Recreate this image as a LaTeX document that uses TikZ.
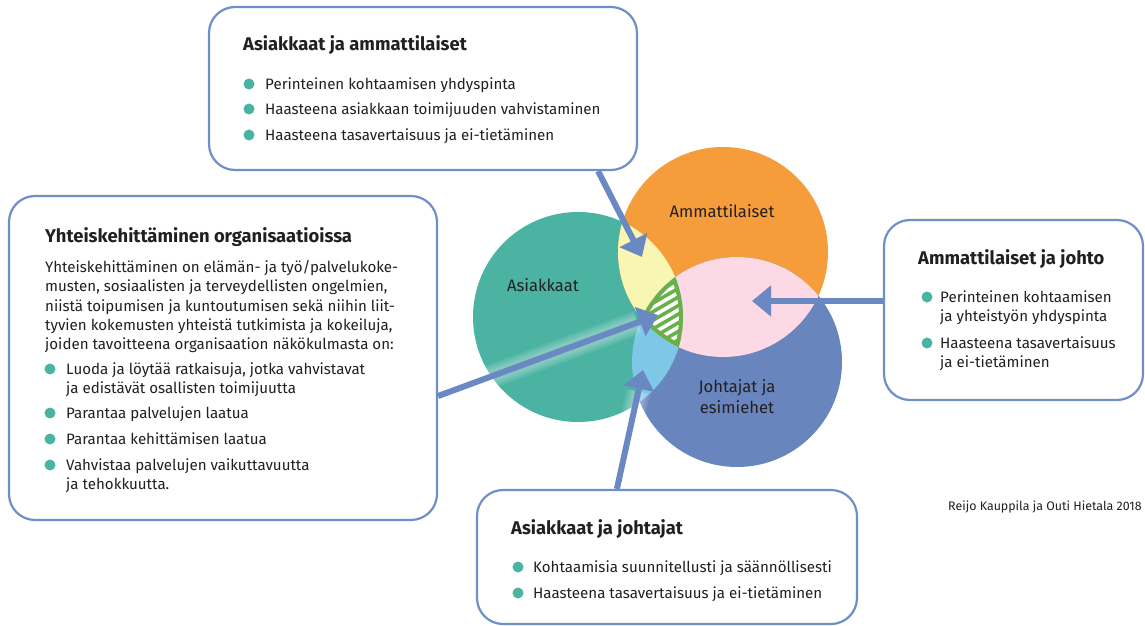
\documentclass[tikz,border=0pt]{standalone}
\usepackage{fontspec}
\setmainfont{Fira Sans}
\usetikzlibrary{arrows.meta}

\definecolor{asiakas}{HTML}{4BB3A2}
\definecolor{ammatti}{HTML}{F49D3A}
\definecolor{johto}{HTML}{6886BD}
\definecolor{keltainen}{HTML}{F9F5B3}
\definecolor{vaaleansininen}{HTML}{7FC7E6}
\definecolor{roosa}{HTML}{FCD9E5}
\definecolor{vihrea}{HTML}{6AB04A}
\definecolor{reuna}{HTML}{6E8FC8}
\definecolor{nuoli}{HTML}{6A88C2}
\definecolor{teksti}{HTML}{231F20}

\def\asiakasympyra{(578,317) circle [radius=105pt]}
\def\ammattiympyra{(723,252) circle [radius=105pt]}
\def\johtoympyra{(737,362) circle [radius=105pt]}

\tikzset{
  kortti/.style={draw=reuna, line width=2.2pt, rounded corners=26pt, fill=white, inner sep=0pt},
  otsikko/.style={anchor=base west, inner sep=0pt, text=teksti, font=\fontsize{18.4}{20}\selectfont\bfseries},
  rivi/.style={anchor=base west, inner sep=0pt, text=teksti, font=\fontsize{15.1}{19}\selectfont},
  pallo/.style={circle, fill=asiakas, minimum size=11pt, inner sep=0pt},
  nimi/.style={text=teksti, font=\fontsize{16.6}{21}\selectfont, align=center, inner sep=0pt},
  osoitin/.style={draw=nuoli, line width=6pt, -{Triangle[length=19pt,width=30pt]}},
  hehku/.style={draw=white, opacity=0.09, shorten <=20pt, shorten >=22pt},
}

\begin{document}
\begin{tikzpicture}[x=1pt,y=-1pt]
	\useasboundingbox (0,0) rectangle (1145,626);
	
	%%%%% YMPYRAT %%%%%
	\fill[asiakas] \asiakasympyra;
	\fill[ammatti] \ammattiympyra;
	\fill[johto] \johtoympyra;
	
	\begin{scope}
		\clip \asiakasympyra;
		\fill[keltainen] \ammattiympyra;
		\fill[vaaleansininen] \johtoympyra;
	\end{scope}
	\begin{scope}
		\clip \ammattiympyra;
		\fill[roosa] \johtoympyra;
	\end{scope}
	
	% yhteinen alue
	\begin{scope}
		\clip \asiakasympyra;
		\clip \ammattiympyra;
		\clip \johtoympyra;
		\fill[vihrea] (600,250) rectangle (720,370);
		\foreach \k in {0,...,16}
			\draw[white, line width=3.6pt] (610,272+\k*8.6) -- ++(90,-52);
		\draw[vihrea, line width=8pt] \asiakasympyra;
		\draw[vihrea, line width=8pt] \ammattiympyra;
		\draw[vihrea, line width=8pt] \johtoympyra;
	\end{scope}
	
	\node[nimi] (nasiakas) at (543,285) {Asiakkaat};
	\node[nimi] (nammatti) at (722,211) {Ammattilaiset};
	\node[nimi] (njohto) at (737,397) {Johtajat ja\\esimiehet};
	
	%%%%% LAATIKOT %%%%%
	\node[kortti, minimum width=428pt, minimum height=163pt] (ylaboksi) at (423,88.5) {};
	\node[otsikko] (yo) at (243,51) {Asiakkaat ja ammattilaiset};
	\foreach \y/\txt [count=\i] in {84/Perinteinen kohtaamisen yhdyspinta, 109/Haasteena asiakkaan toimijuuden vahvistaminen, 135/Haasteena tasavertaisuus ja ei-tietäminen} {
		\node[pallo] (yp\i) at (249,\y) {};
		\node[rivi] (yr\i) at (265,\y+5) {\txt};
	}
	
	\node[kortti, minimum width=428pt, minimum height=324pt] (vasenboksi) at (223,358) {};
	\node[otsikko] (vo) at (45,242) {Yhteiskehittäminen organisaatioissa};
	\foreach \y/\txt [count=\i] in {272/{Yhteiskehittäminen on elämän- ja työ/palvelukoke-}, 291/{musten, sosiaalisten ja terveydellisten ongelmien,}, 311/niistä toipumisen ja kuntoutumisen sekä niihin liit-, 330/{tyvien kokemusten yhteistä tutkimista ja kokeiluja,}, 349/{joiden tavoitteena organisaation näkökulmasta on:}}
		\node[rivi] (vk\i) at (45,\y) {\txt};
	\foreach \y [count=\i] in {369,413,439,465}
		\node[pallo] (vp\i) at (50,\y) {};
	\foreach \y/\txt [count=\i] in {374/{Luoda ja löytää ratkaisuja, jotka vahvistavat}, 393/ja edistävät osallisten toimijuutta, 418/Parantaa palvelujen laatua, 444/Parantaa kehittämisen laatua, 470/Vahvistaa palvelujen vaikuttavuutta, 489/ja tehokkuutta.}
		\node[rivi] (vr\i) at (66,\y) {\txt};
	
	\node[kortti, minimum width=259pt, minimum height=180pt] (oikeaboksi) at (1013.5,310) {};
	\node[otsikko] (oo) at (918,264) {Ammattilaiset ja johto};
	\node[pallo] (op1) at (927,297) {};
	\node[pallo] (op2) at (927,343) {};
	\foreach \y/\txt [count=\i] in {302/Perinteinen kohtaamisen, 321/ja yhteistyön yhdyspinta, 348/Haasteena tasavertaisuus, 367/ja ei-tietäminen}
		\node[rivi] (or\i) at (940,\y) {\txt};
	
	\node[kortti, minimum width=380pt, minimum height=134pt] (alaboksi) at (667,557) {};
	\node[otsikko] (ao) at (511,534) {Asiakkaat ja johtajat};
	\foreach \y/\txt [count=\i] in {567/Kohtaamisia suunnitellusti ja säännöllisesti, 593/Haasteena tasavertaisuus ja ei-tietäminen} {
		\node[pallo] (ap\i) at (518,\y) {};
		\node[rivi] (ar\i) at (533,\y+5) {\txt};
	}
	
	\node[anchor=base west, inner sep=0pt, text=teksti, font=\fontsize{12.4}{14}\selectfont] (lahde) at (948,510) {Reijo Kauppila ja Outi Hietala 2018};
	
	%%%%% NUOLET %%%%%
	\coordinate (karki1) at (642,257);
	\coordinate (karki2) at (658,315);
	\coordinate (karki3) at (752,301);
	\coordinate (karki4) at (643,370);
	
	% vaalea hehku nuolten alla
	\foreach \w in {24,20,16,12} {
		\draw[hehku, line width=\w pt] ([yshift=-38pt]vasenboksi.east) -- (karki2);
		\draw[hehku, line width=\w pt] ([xshift=141pt]alaboksi.north west) -- (karki4);
	}
	
	\draw[osoitin] ([xshift=-40pt]ylaboksi.south east) -- (karki1);
	\draw[osoitin] ([yshift=-38pt]vasenboksi.east) -- (karki2);
	\draw[osoitin] ([yshift=9pt]oikeaboksi.west) -- (karki3);
	\draw[osoitin] ([xshift=141pt]alaboksi.north west) -- (karki4);
\end{tikzpicture}
\end{document}
